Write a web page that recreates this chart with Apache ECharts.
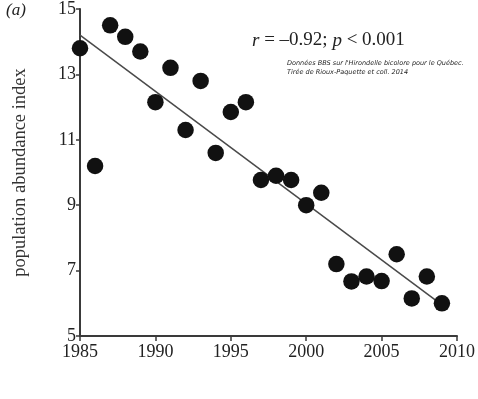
<!DOCTYPE html>
<html><head><meta charset="utf-8">
<script src="https://cdn.jsdelivr.net/npm/echarts@6/dist/echarts.min.js"></script>
<style>html,body{margin:0;padding:0;background:#fff}#c{width:478px;height:399px}</style>
</head><body><div id="c"></div>
<script>
const years = [1985,1986,1987,1988,1989,1990,1991,1992,1993,1994,1995,1996,1997,1998,1999,2000,2001,2002,2003,2004,2005,2006,2007,2008,2009];
const index = [13.8,10.2,14.5,14.15,13.7,12.15,13.2,11.3,12.8,10.6,11.85,12.15,9.77,9.9,9.77,9.0,9.38,7.2,6.67,6.82,6.68,7.5,6.15,6.82,6.0];
const fitLine = [[1985,14.2],[2009,5.95]];
const xTicks = [1985,1990,1995,2000,2005,2010];
const yTicks = [5,7,9,11,13,15];

const chart = echarts.init(document.getElementById('c'));
const serif = '"Liberation Serif", "Times New Roman", serif';
chart.setOption({
  backgroundColor:'#fff',
  animation:false,
  grid:{left:80,right:21,top:9,bottom:63},
  xAxis:{type:'value',min:1985,max:2010,interval:5,
    axisLine:{lineStyle:{color:'#3a3a3a',width:2}},
    axisTick:{show:true,length:5,lineStyle:{color:'#3a3a3a',width:1.5}},
    axisLabel:{fontFamily:serif,fontSize:18,color:'#222',margin:7,
      formatter:v=>xTicks.includes(v)?String(v):''},
    splitLine:{show:false}},
  yAxis:{type:'value',min:5,max:15,interval:2,
    name:'population abundance index',nameLocation:'middle',nameGap:50,
    nameTextStyle:{fontFamily:serif,fontSize:18.5,color:'#333'},
    axisLine:{show:true,lineStyle:{color:'#3a3a3a',width:2}},
    axisTick:{show:true,length:4,lineStyle:{color:'#3a3a3a',width:1.5}},
    axisLabel:{fontFamily:serif,fontSize:18,color:'#222',margin:4,
      formatter:v=>yTicks.includes(v)?String(v):''},
    splitLine:{show:false}},
  series:[
    {type:'line',data:fitLine,symbol:'none',lineStyle:{color:'#4a4a4a',width:1.5},z:1},
    {type:'scatter',data:years.map((y,i)=>[y,index[i]]),symbol:'circle',symbolSize:16.5,
      itemStyle:{color:'#111',opacity:1},z:2}
  ],
  graphic:[
    {type:'text',left:6,top:2,style:{text:'(a)',font:'italic 17px "Liberation Serif"',fill:'#222'}},
    {type:'text',left:252,top:31,style:{
      rich:{
        i:{fontFamily:serif,fontStyle:'italic',fontSize:19,fill:'#222',color:'#222'},
        n:{fontFamily:serif,fontSize:19,fill:'#222',color:'#222'}
      },
      text:'{i|r}{n| = –0.92; }{i|p}{n| < 0.001}'}},
    {type:'text',left:287,top:60,style:{text:'Données BBS sur l\'Hirondelle bicolore pour le Québec.',font:'italic 6.5px "DejaVu Sans"',fill:'#222'}},
    {type:'text',left:287,top:69,style:{text:'Tirée de Rioux-Paquette et coll. 2014',font:'italic 6.5px "DejaVu Sans"',fill:'#222'}}
  ]
});
</script></body></html>
